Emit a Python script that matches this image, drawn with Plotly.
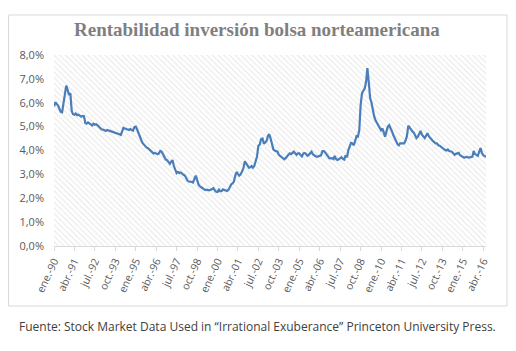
import pandas as pd
import plotly.graph_objects as go

# Monthly yield (%) Jan 1990 - Jun 2016
y1990 = [5.85, 6.02, 5.95, 5.88, 5.75, 5.62, 5.60, 6.05, 6.45, 6.72, 6.55, 6.32]
y1991 = [6.40, 5.65, 5.52, 5.50, 5.55, 5.48, 5.50, 5.46, 5.42, 5.45, 5.44, 5.15]
y1992 = [5.12, 5.18, 5.15, 5.10, 5.05, 5.12, 5.08, 5.10, 5.05, 5.00, 4.92, 4.88]
y1993 = [4.88, 4.85, 4.82, 4.86, 4.83, 4.82, 4.80, 4.78, 4.76, 4.74, 4.75, 4.72]
y1994 = [4.68, 4.65, 4.80, 4.95, 4.92, 4.90, 4.88, 4.86, 4.90, 4.85, 4.83, 4.98]
y1995 = [5.00, 4.88, 4.72, 4.58, 4.45, 4.32, 4.25, 4.20, 4.12, 4.10, 4.05, 4.00]
y1996 = [3.92, 3.88, 3.90, 3.86, 3.84, 3.88, 3.98, 3.95, 3.85, 3.72, 3.62, 3.60]
y1997 = [3.50, 3.44, 3.52, 3.60, 3.35, 3.15, 3.05, 3.10, 3.06, 3.08, 3.02, 2.98]
y1998 = [2.95, 2.82, 2.74, 2.70, 2.70, 2.68, 2.66, 2.85, 2.95, 2.78, 2.58, 2.50]
y1999 = [2.44, 2.42, 2.38, 2.34, 2.36, 2.34, 2.33, 2.36, 2.38, 2.42, 2.33, 2.27]
y2000 = [2.26, 2.36, 2.30, 2.30, 2.37, 2.34, 2.32, 2.30, 2.35, 2.48, 2.58, 2.62]
y2001 = [2.70, 2.95, 3.10, 3.02, 2.95, 3.00, 3.12, 3.25, 3.55, 3.45, 3.32, 3.28]
y2002 = [3.30, 3.35, 3.28, 3.35, 3.55, 3.75, 4.20, 4.25, 4.48, 4.50, 4.28, 4.35]
y2003 = [4.40, 4.62, 4.68, 4.50, 4.25, 4.05, 4.00, 3.98, 3.95, 3.82, 3.78, 3.72]
y2004 = [3.70, 3.63, 3.68, 3.78, 3.82, 3.88, 3.85, 3.90, 3.95, 3.88, 3.82, 3.88]
y2005 = [3.88, 3.80, 3.75, 3.88, 3.90, 3.85, 3.78, 3.82, 3.88, 3.95, 3.84, 3.78]
y2006 = [3.76, 3.74, 3.76, 3.76, 3.80, 3.97, 3.97, 3.92, 3.82, 3.74, 3.68, 3.67]
y2007 = [3.68, 3.64, 3.77, 3.64, 3.60, 3.63, 3.66, 3.72, 3.65, 3.62, 3.80, 3.72]
y2008 = [4.02, 4.22, 4.32, 4.30, 4.22, 4.40, 4.60, 4.58, 4.85, 5.90, 6.40, 6.50]
y2009 = [6.60, 6.90, 7.45, 6.85, 6.20, 6.00, 5.70, 5.42, 5.25, 5.15, 5.05, 4.95]
y2010 = [4.85, 4.92, 4.75, 4.58, 4.80, 5.00, 5.06, 4.95, 4.80, 4.65, 4.55, 4.40]
y2011 = [4.27, 4.22, 4.30, 4.30, 4.28, 4.30, 4.42, 4.60, 5.04, 4.95, 4.88, 4.80]
y2012 = [4.75, 4.60, 4.52, 4.58, 4.70, 4.82, 4.66, 4.60, 4.52, 4.62, 4.72, 4.60]
y2013 = [4.52, 4.45, 4.40, 4.35, 4.30, 4.30, 4.22, 4.20, 4.15, 4.12, 4.05, 4.02]
y2014 = [4.00, 4.04, 3.98, 3.95, 3.95, 3.88, 3.82, 3.86, 3.88, 3.90, 3.80, 3.76]
y2015 = [3.72, 3.70, 3.72, 3.74, 3.70, 3.70, 3.72, 3.74, 3.98, 3.85, 3.80, 3.78]
y2016 = [3.95, 4.10, 3.90, 3.80, 3.77, 3.74]

years = [y1990, y1991, y1992, y1993, y1994, y1995, y1996, y1997, y1998, y1999,
         y2000, y2001, y2002, y2003, y2004, y2005, y2006, y2007, y2008, y2009,
         y2010, y2011, y2012, y2013, y2014, y2015, y2016]
values = [v for yr in years for v in yr]

tick_labels = ["ene.-90", "abr.-91", "jul.-92", "oct.-93", "ene.-95", "abr.-96",
               "jul.-97", "oct.-98", "ene.-00", "abr.-01", "jul.-02", "oct.-03",
               "ene.-05", "abr.-06", "jul.-07", "oct.-08", "ene.-10", "abr.-11",
               "jul.-12", "oct.-13", "ene.-15", "abr.-16"]

title_text = "Rentabilidad inversión bolsa norteamericana"
source_text = "Fuente: Stock Market Data Used in “Irrational Exuberance” Princeton University Press."

dates = pd.date_range("1990-01-01", periods=len(values), freq="MS")
tick_dates = pd.date_range("1990-01-01", periods=len(tick_labels), freq="15MS")
yvals = [v / 100 for v in values]

W, H = 516, 351
L, R, T, B = 53.5, 486, 55, 246  # plot area in pixels


def px_x(px):
    return (px - L) / (R - L)


def px_y(py):
    return (B - py) / (B - T)


fig = go.Figure()

# hatched plot-area background
fig.add_trace(go.Scatter(
    x=[dates[0], dates[-1], dates[-1], dates[0], dates[0]],
    y=[0, 0, 0.08, 0.08, 0],
    mode="lines", line=dict(width=0), fill="toself",
    fillcolor="rgba(0,0,0,0)",
    fillpattern=dict(shape="\\", fgcolor="#d0d0d0", bgcolor="white", size=4, solidity=0.28),
    hoverinfo="skip", showlegend=False,
))

fig.add_trace(go.Scatter(
    x=dates, y=yvals, mode="lines",
    line=dict(color="#4A7EBB", width=2.2),
    showlegend=False,
))

fig.update_layout(
    width=W, height=H,
    margin=dict(l=L, r=W - R, t=T, b=H - B),
    paper_bgcolor="white", plot_bgcolor="white",
    separators=",.",
    font=dict(family="Open Sans, Liberation Sans, sans-serif", color="#595959", size=10),
    xaxis=dict(
        range=[dates[0], dates[-1]],
        tickvals=tick_dates, ticktext=tick_labels,
        tickangle=-65, ticks="outside", ticklen=4, tickcolor="#d9d9d9",
        showline=True, linecolor="#d9d9d9", linewidth=1,
        showgrid=False, zeroline=False,
        tickfont=dict(size=10.5, color="#595959"),
    ),
    yaxis=dict(
        range=[0, 0.08], dtick=0.01, tickformat=".1%",
        showgrid=True, gridcolor="#d9d9d9", gridwidth=1,
        zeroline=False, showline=False, ticks="",
        ticklabelstandoff=9,
        tickfont=dict(size=11, color="#595959"),
    ),
    shapes=[dict(
        type="rect", xref="paper", yref="paper",
        x0=px_x(8), x1=px_x(507), y0=px_y(306), y1=px_y(15),
        line=dict(color="#d9d9d9", width=1), fillcolor="rgba(0,0,0,0)",
        layer="below",
    )],
    annotations=[
        dict(text="<b>" + title_text + "</b>", xref="paper", yref="paper",
             x=px_x(257), y=px_y(30), xanchor="center", yanchor="middle",
             showarrow=False,
             font=dict(family="Liberation Serif, DejaVu Serif, serif", size=19, color="#7f7f7f")),
        dict(text=source_text, xref="paper", yref="paper",
             x=px_x(257), y=px_y(326), xanchor="center", yanchor="middle",
             showarrow=False,
             font=dict(family="Open Sans, sans-serif", size=12, color="#404040")),
    ],
)

fig.write_html("out.html")
